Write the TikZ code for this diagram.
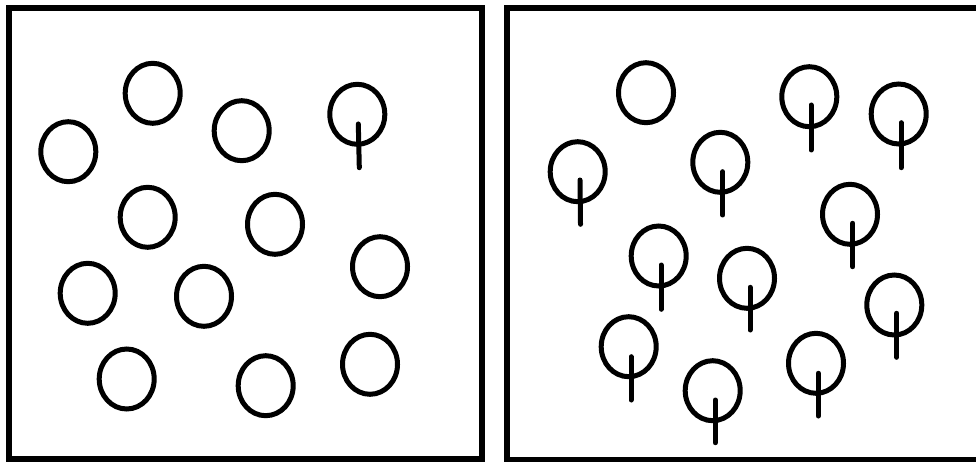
\documentclass[tikz,border=0pt]{standalone}
\usetikzlibrary{shapes.geometric}
\tikzset{
  ring/.style={ellipse,draw=black,line width=5pt,inner sep=0pt,minimum width=55pt,minimum height=60pt},
  stemline/.style={draw=black,line width=5pt,line cap=round},
  frame/.style={draw=black,line width=6pt}
}
\begin{document}
\begin{tikzpicture}[x=1pt,y=-1pt]
\useasboundingbox (0,0) rectangle (976,462);
\fill[white] (0,0) rectangle (976,462);
% frames
\coordinate (ltl) at (9,8);
\coordinate (lbr) at (482,459);
\draw[frame] (ltl) rectangle (lbr);
\coordinate (rtr) at (985,8.5);
\coordinate (rtl) at (507,8.5);
\coordinate (rbl) at (507,460);
\coordinate (rbr) at (985,460);
\draw[frame] (rtr) -- (rtl) -- (rbl) -- (rbr);
% left panel
\node[ring] (l1) at (152.7,93.3) {};
\node[ring] (l2) at (68.3,151.7) {};
\node[ring] (l3) at (241.7,130.7) {};
\node[ring] (l4) at (357.3,114.3) {};
\node[ring] (l5) at (147.7,217.3) {};
\node[ring] (l6) at (275,224.3) {};
\node[ring] (l7) at (87.7,293.3) {};
\node[ring] (l8) at (204,296.3) {};
\node[ring] (l9) at (380,266.7) {};
\node[ring] (l10) at (126.7,379) {};
\node[ring] (l11) at (265.7,385.7) {};
\node[ring] (l12) at (370,364.3) {};
\draw[stemline] (l4.center) ++(1,9.7) -- ++(1,43.7);
% right panel
\node[ring] (r1) at (646,92.7) {};
\node[ring] (r2) at (809.3,96.7) {};
\node[ring] (r3) at (898.7,114) {};
\node[ring] (r4) at (577.7,171.7) {};
\node[ring] (r5) at (720.3,162.3) {};
\node[ring] (r6) at (850,214.3) {};
\node[ring] (r7) at (658.7,256) {};
\node[ring] (r8) at (747,278.3) {};
\node[ring] (r9) at (894.3,305) {};
\node[ring] (r10) at (628.7,346.7) {};
\node[ring] (r11) at (712.7,390.7) {};
\node[ring] (r12) at (816,363.3) {};
\draw[stemline] (r2.center) ++(1.7,8.3) -- ++(0,45);
\draw[stemline] (r3.center) ++(2.3,8.7) -- ++(0,45);
\draw[stemline] (r4.center) ++(2.3,8.3) -- ++(0.5,44.3);
\draw[stemline] (r5.center) ++(2.4,9.4) -- ++(0,43.3);
\draw[stemline] (r6.center) ++(2.7,9) -- ++(0,43.4);
\draw[stemline] (r7.center) ++(2.3,9) -- ++(0,44.3);
\draw[stemline] (r8.center) ++(3,9) -- ++(0,42.7);
\draw[stemline] (r9.center) ++(2.4,8.3) -- ++(0,44);
\draw[stemline] (r10.center) ++(2.3,10) -- ++(0,43.3);
\draw[stemline] (r11.center) ++(2.6,9.3) -- ++(0,42.7);
\draw[stemline] (r12.center) ++(2.3,10) -- ++(0,42.7);
\end{tikzpicture}
\end{document}
